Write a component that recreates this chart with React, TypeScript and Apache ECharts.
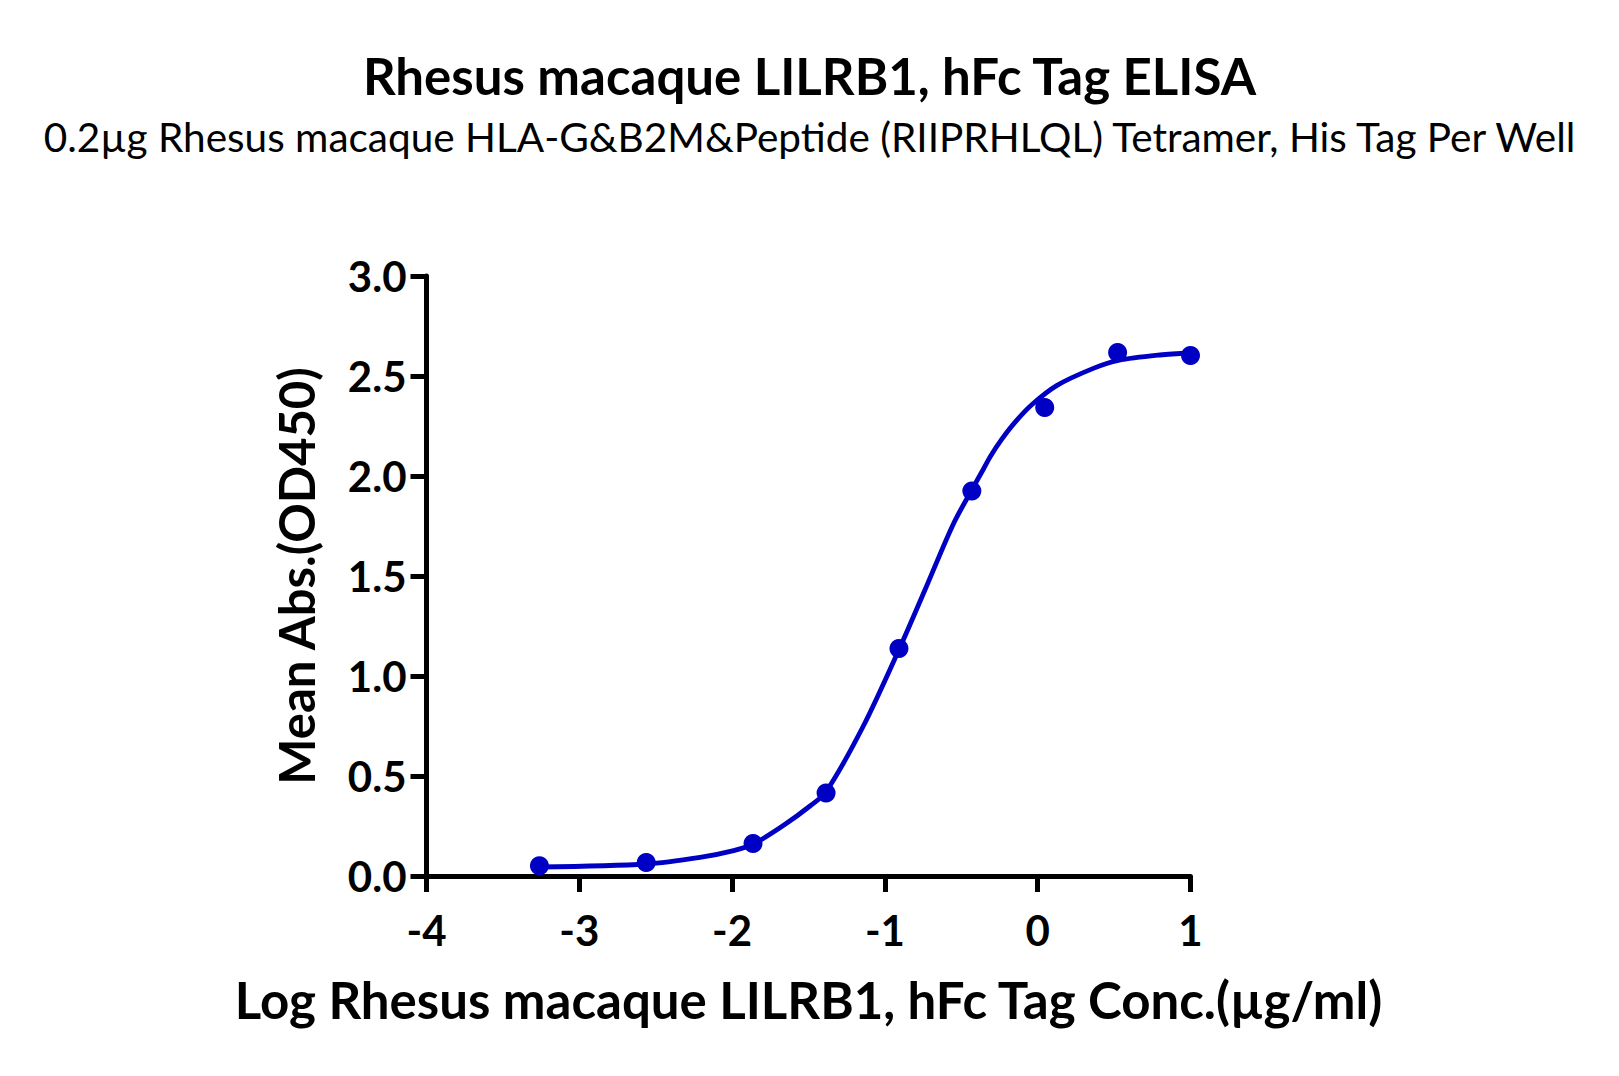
import React, { useEffect, useRef } from "react";
import * as echarts from "echarts";

const titleText = "Rhesus macaque LILRB1, hFc Tag ELISA";
const subtitleText = "0.2µg Rhesus macaque HLA-G&B2M&Peptide (RIIPRHLQL) Tetramer, His Tag Per Well";
const xAxisTitle = "Log Rhesus macaque LILRB1, hFc Tag Conc.(µg/ml)";
const yAxisTitle = "Mean Abs.(OD450)";

// measured points (log conc, OD450)
const pointX = [-3.261, -2.562, -1.863, -1.385, -0.908, -0.431, 0.046, 0.523, 1.0];
const pointY = [0.051, 0.068, 0.163, 0.415, 1.137, 1.925, 2.342, 2.617, 2.602];

// fitted curve
const curveX = [-3.26, -2.56, -2.21, -1.99, -1.86, -1.665, -1.49, -1.386, -1.141, -0.906, -0.738, -0.552, -0.428, -0.355, -0.308, -0.236, -0.149, -0.039, 0.124, 0.364, 0.528, 0.8, 1.0];
const curveY = [0.045, 0.06, 0.093, 0.127, 0.16, 0.252, 0.35, 0.42, 0.75, 1.135, 1.43, 1.76, 1.935, 2.035, 2.1, 2.183, 2.268, 2.356, 2.452, 2.538, 2.578, 2.605, 2.615];

const xMin = -4;
const xMax = 1;
const yMin = 0;
const yMax = 3;

const BLUE = "#0000C4";
const FONT = "Lato";

export default function App() {
  const ref = useRef<HTMLDivElement>(null);
  useEffect(() => {
    if (!ref.current) return;
    const chart = echarts.init(ref.current, null, { renderer: "svg" });
    chart.setOption({
      animation: false,
      backgroundColor: "#ffffff",
      title: [
        {
          text: titleText,
          left: "center",
          top: 45,
          textStyle: { fontFamily: FONT, fontWeight: "bold", fontSize: 51, color: "#000" },
        },
        {
          text: subtitleText,
          left: "center",
          top: 111,
          textStyle: { fontFamily: FONT, fontWeight: "normal", fontSize: 40.5, color: "#000" },
        },
      ],
      grid: { left: 426.5, right: 428.5, top: 276, bottom: 200, containLabel: false },
      xAxis: {
        type: "value",
        min: xMin,
        max: xMax,
        interval: 1,
        name: xAxisTitle,
        nameLocation: "middle",
        nameGap: 98,
        nameTextStyle: { fontFamily: FONT, fontWeight: "bold", fontSize: 51, color: "#000" },
        axisLine: { show: true, onZero: false, lineStyle: { color: "#000", width: 5 } },
        axisTick: { show: true, length: 16, lineStyle: { color: "#000", width: 5 } },
        axisLabel: {
          margin: 33,
          fontFamily: FONT,
          fontWeight: "bold",
          fontSize: 42,
          color: "#000",
          formatter: (v: number) => String(v),
        },
        splitLine: { show: false },
      },
      yAxis: {
        type: "value",
        min: yMin,
        max: yMax,
        interval: 0.5,
        name: yAxisTitle,
        nameLocation: "middle",
        nameRotate: 90,
        nameGap: 106,
        nameTextStyle: { fontFamily: FONT, fontWeight: "bold", fontSize: 49, color: "#000" },
        axisLine: { show: true, onZero: false, lineStyle: { color: "#000", width: 5 } },
        axisTick: { show: true, length: 16, lineStyle: { color: "#000", width: 5 } },
        axisLabel: {
          margin: 20,
          fontFamily: FONT,
          fontWeight: "bold",
          fontSize: 42,
          color: "#000",
          formatter: (v: number) => v.toFixed(1),
        },
        splitLine: { show: false },
      },
      series: [
        {
          type: "line",
          data: curveX.map((x, i) => [x, curveY[i]]),
          smooth: 0.3,
          showSymbol: false,
          symbol: "none",
          lineStyle: { color: BLUE, width: 4.8 },
          z: 2,
        },
        {
          type: "scatter",
          data: pointX.map((x, i) => [x, pointY[i]]),
          symbol: "circle",
          symbolSize: 19,
          itemStyle: { color: BLUE, opacity: 1 },
          z: 3,
        },
      ],
    });
    return () => chart.dispose();
  }, []);
  return (
    <div
      ref={ref}
      style={{ position: "absolute", left: 0, top: 0, width: 1619, height: 1076 }}
    />
  );
}
